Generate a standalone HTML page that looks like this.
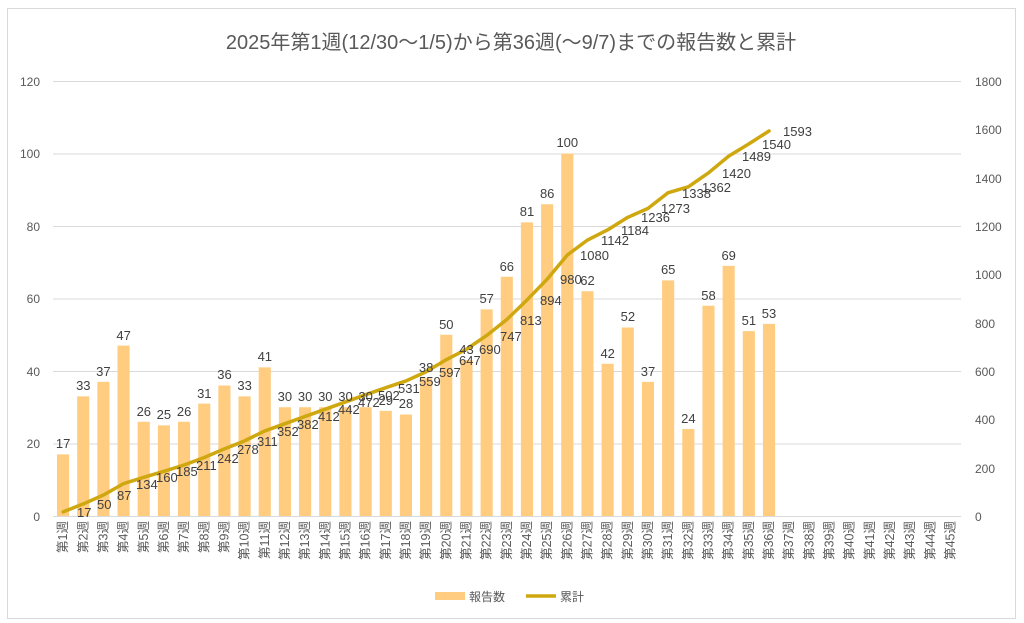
<!DOCTYPE html>
<html><head><meta charset="utf-8"><style>
body{margin:0;background:#fff}
svg{display:block;font-family:"Liberation Sans","Noto Sans CJK JP",sans-serif}
.t{font-size:13px;fill:#404040}
.a{font-size:12px;fill:#595959}
.x{font-size:12.5px;fill:#595959}
</style></head><body>
<svg width="1024" height="623" viewBox="0 0 1024 623" xmlns="http://www.w3.org/2000/svg">
<rect x="0" y="0" width="1024" height="623" fill="#fff"/>
<rect x="7.5" y="8.5" width="1008" height="610" fill="none" stroke="#d9d9d9"/>
<text x="511" y="49" text-anchor="middle" style="font-size:20px;fill:#595959">2025年第1週(12/30～1/5)から第36週(～9/7)までの報告数と累計</text>
<g stroke="#d9d9d9" stroke-width="1">
<line x1="53" x2="961" y1="81.5" y2="81.5"/>
<line x1="53" x2="961" y1="154" y2="154"/>
<line x1="53" x2="961" y1="226.5" y2="226.5"/>
<line x1="53" x2="961" y1="299" y2="299"/>
<line x1="53" x2="961" y1="371.5" y2="371.5"/>
<line x1="53" x2="961" y1="444" y2="444"/>
<line x1="53" x2="961" y1="516.5" y2="516.5"/>
</g>
<g class="a" text-anchor="end">
<text x="40" y="86">120</text><text x="40" y="158">100</text><text x="40" y="231">80</text><text x="40" y="303">60</text><text x="40" y="376">40</text><text x="40" y="448">20</text><text x="40" y="521">0</text>
</g>
<g class="a" text-anchor="start">
<text x="975" y="86">1800</text><text x="975" y="134">1600</text><text x="975" y="183">1400</text><text x="975" y="231">1200</text><text x="975" y="279">1000</text><text x="975" y="328">800</text><text x="975" y="376">600</text><text x="975" y="424">400</text><text x="975" y="473">200</text><text x="975" y="521">0</text>
</g>
<g transform="translate(57,516) scale(20.17,-3.625)" fill="#FFCC80">
<rect x="0" width="0.6" height="17"/><rect x="1" width="0.6" height="33"/><rect x="2" width="0.6" height="37"/><rect x="3" width="0.6" height="47"/><rect x="4" width="0.6" height="26"/><rect x="5" width="0.6" height="25"/><rect x="6" width="0.6" height="26"/><rect x="7" width="0.6" height="31"/><rect x="8" width="0.6" height="36"/><rect x="9" width="0.6" height="33"/><rect x="10" width="0.6" height="41"/><rect x="11" width="0.6" height="30"/><rect x="12" width="0.6" height="30"/><rect x="13" width="0.6" height="30"/><rect x="14" width="0.6" height="30"/><rect x="15" width="0.6" height="30"/><rect x="16" width="0.6" height="29"/><rect x="17" width="0.6" height="28"/><rect x="18" width="0.6" height="38"/><rect x="19" width="0.6" height="50"/><rect x="20" width="0.6" height="43"/><rect x="21" width="0.6" height="57"/><rect x="22" width="0.6" height="66"/><rect x="23" width="0.6" height="81"/><rect x="24" width="0.6" height="86"/><rect x="25" width="0.6" height="100"/><rect x="26" width="0.6" height="62"/><rect x="27" width="0.6" height="42"/><rect x="28" width="0.6" height="52"/><rect x="29" width="0.6" height="37"/><rect x="30" width="0.6" height="65"/><rect x="31" width="0.6" height="24"/><rect x="32" width="0.6" height="58"/><rect x="33" width="0.6" height="69"/><rect x="34" width="0.6" height="51"/><rect x="35" width="0.6" height="53"/>
</g>
<polyline transform="translate(63.1,516) scale(20.17,-0.24167)" fill="none" stroke="#CFA70F" stroke-width="3.5" stroke-linejoin="round" stroke-linecap="round" vector-effect="non-scaling-stroke"
points="0,17 1,50 2,87 3,134 4,160 5,185 6,211 7,242 8,278 9,311 10,352 11,382 12,412 13,442 14,472 15,502 16,531 17,559 18,597 19,647 20,690 21,747 22,813 23,894 24,980 25,1080 26,1142 27,1184 28,1236 29,1273 30,1338 31,1362 32,1420 33,1489 34,1540 35,1593"/>
<g class="t" text-anchor="middle">
<text x="63.1" y="448">17</text><text x="83.3" y="390">33</text><text x="103.4" y="376">37</text><text x="123.6" y="340">47</text><text x="143.8" y="416">26</text><text x="163.9" y="419">25</text><text x="184.1" y="416">26</text><text x="204.3" y="398">31</text><text x="224.5" y="379">36</text><text x="244.6" y="390">33</text><text x="264.8" y="361">41</text><text x="284.9" y="401">30</text><text x="305.1" y="401">30</text><text x="325.3" y="401">30</text><text x="345.5" y="401">30</text><text x="365.6" y="401">30</text><text x="385.8" y="405">29</text><text x="406.0" y="408">28</text><text x="426.1" y="372">38</text><text x="446.3" y="329">50</text><text x="466.5" y="354">43</text><text x="486.7" y="303">57</text><text x="506.8" y="271">66</text><text x="527.0" y="216">81</text><text x="547.2" y="198">86</text><text x="567.3" y="147">100</text><text x="587.5" y="285">62</text><text x="607.7" y="358">42</text><text x="627.9" y="321">52</text><text x="648.0" y="376">37</text><text x="668.2" y="274">65</text><text x="688.4" y="423">24</text><text x="708.5" y="300">58</text><text x="728.7" y="260">69</text><text x="748.9" y="325">51</text><text x="769.0" y="318">53</text>
</g>
<g class="t">
<text x="77" y="517">17</text><text x="97" y="509">50</text><text x="117" y="500">87</text><text x="136" y="489">134</text><text x="156" y="482">160</text><text x="176" y="476">185</text><text x="196" y="470">211</text><text x="217" y="463">242</text><text x="237" y="454">278</text><text x="257" y="446">311</text><text x="277" y="436">352</text><text x="297" y="429">382</text><text x="318" y="421">412</text><text x="338" y="414">442</text><text x="358" y="407">472</text><text x="378" y="400">502</text><text x="398" y="393">531</text><text x="419" y="386">559</text><text x="439" y="377">597</text><text x="459" y="365">647</text><text x="479" y="354">690</text><text x="500" y="341">747</text><text x="520" y="325">813</text><text x="540" y="305">894</text><text x="560" y="284">980</text><text x="580" y="260">1080</text><text x="601" y="245">1142</text><text x="621" y="235">1184</text><text x="641" y="222">1236</text><text x="661" y="213">1273</text><text x="682" y="198">1338</text><text x="702" y="192">1362</text><text x="722" y="178">1420</text><text x="742" y="161">1489</text><text x="762" y="149">1540</text><text x="783" y="136">1593</text>
</g>
<g class="x" text-anchor="end">
<text transform="translate(67.1,521) rotate(-90)">第1週</text><text transform="translate(87.3,521) rotate(-90)">第2週</text><text transform="translate(107.4,521) rotate(-90)">第3週</text><text transform="translate(127.6,521) rotate(-90)">第4週</text><text transform="translate(147.8,521) rotate(-90)">第5週</text><text transform="translate(167.9,521) rotate(-90)">第6週</text><text transform="translate(188.1,521) rotate(-90)">第7週</text><text transform="translate(208.3,521) rotate(-90)">第8週</text><text transform="translate(228.5,521) rotate(-90)">第9週</text><text transform="translate(248.6,521) rotate(-90)">第10週</text><text transform="translate(268.8,521) rotate(-90)">第11週</text><text transform="translate(288.9,521) rotate(-90)">第12週</text><text transform="translate(309.1,521) rotate(-90)">第13週</text><text transform="translate(329.3,521) rotate(-90)">第14週</text><text transform="translate(349.5,521) rotate(-90)">第15週</text><text transform="translate(369.6,521) rotate(-90)">第16週</text><text transform="translate(389.8,521) rotate(-90)">第17週</text><text transform="translate(410.0,521) rotate(-90)">第18週</text><text transform="translate(430.1,521) rotate(-90)">第19週</text><text transform="translate(450.3,521) rotate(-90)">第20週</text><text transform="translate(470.5,521) rotate(-90)">第21週</text><text transform="translate(490.7,521) rotate(-90)">第22週</text><text transform="translate(510.8,521) rotate(-90)">第23週</text><text transform="translate(531.0,521) rotate(-90)">第24週</text><text transform="translate(551.2,521) rotate(-90)">第25週</text><text transform="translate(571.3,521) rotate(-90)">第26週</text><text transform="translate(591.5,521) rotate(-90)">第27週</text><text transform="translate(611.7,521) rotate(-90)">第28週</text><text transform="translate(631.9,521) rotate(-90)">第29週</text><text transform="translate(652.0,521) rotate(-90)">第30週</text><text transform="translate(672.2,521) rotate(-90)">第31週</text><text transform="translate(692.4,521) rotate(-90)">第32週</text><text transform="translate(712.5,521) rotate(-90)">第33週</text><text transform="translate(732.7,521) rotate(-90)">第34週</text><text transform="translate(752.9,521) rotate(-90)">第35週</text><text transform="translate(773.0,521) rotate(-90)">第36週</text><text transform="translate(793.2,521) rotate(-90)">第37週</text><text transform="translate(813.4,521) rotate(-90)">第38週</text><text transform="translate(833.6,521) rotate(-90)">第39週</text><text transform="translate(853.7,521) rotate(-90)">第40週</text><text transform="translate(873.9,521) rotate(-90)">第41週</text><text transform="translate(894.1,521) rotate(-90)">第42週</text><text transform="translate(914.2,521) rotate(-90)">第43週</text><text transform="translate(934.4,521) rotate(-90)">第44週</text><text transform="translate(954.6,521) rotate(-90)">第45週</text>
</g>
<rect x="435" y="592" width="30" height="8" fill="#FFCC80"/>
<text x="469" y="601" class="a">報告数</text>
<line x1="526" x2="556" y1="596" y2="596" stroke="#CFA70F" stroke-width="3.5"/>
<text x="560" y="601" class="a">累計</text>
</svg>
</body></html>
